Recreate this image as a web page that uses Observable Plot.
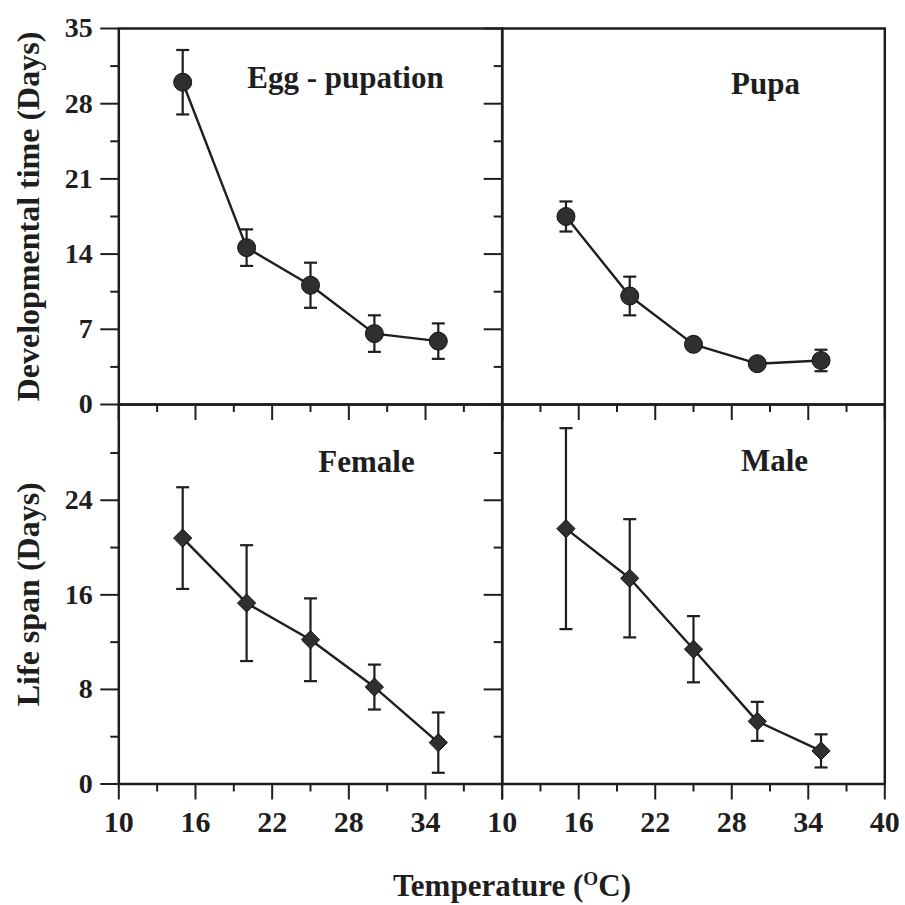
<!DOCTYPE html>
<html>
<head>
<meta charset="utf-8">
<script src="https://cdn.jsdelivr.net/npm/d3@7"></script>
<script src="https://cdn.jsdelivr.net/npm/@observablehq/plot@0.6"></script>
<style>
  html, body { margin: 0; padding: 0; background: #fff; overflow: hidden; }
  #wrap { position: relative; width: 905px; height: 905px; }
  #wrap svg { position: absolute; left: 0; top: 0; }
  #xtitle { position: absolute; left: 0; top: 870px; width: 1024px; text-align: center;
            font: bold 31px "Liberation Serif", "Times New Roman", serif; line-height: 31px; color: #1e1e1e; }
  #xtitle .sup { position: relative; top: -0.55em; font-size: 0.62em; }
</style>
</head>
<body>
<div id="wrap"></div>
<script>
// ---- data ----
const temperature = [15, 20, 25, 30, 35];

const eggMean   = [30.0, 14.6, 11.1, 6.6, 5.9];
const eggErr    = [3.0, 1.7, 2.1, 1.7, 1.65];

const pupaMean  = [17.5, 10.1, 5.6, 3.8, 4.1];
const pupaErr   = [1.4, 1.8, 0.5, 0.4, 1.0];

const femaleMean = [20.8, 15.3, 12.2, 8.2, 3.5];
const femaleErr  = [4.3, 4.9, 3.5, 1.9, 2.55];

const maleMean  = [21.6, 17.4, 11.4, 5.3, 2.8];
const maleErr   = [8.5, 5.0, 2.8, 1.65, 1.4];

const panelLabels = ["Egg - pupation", "Pupa", "Female", "Male"];
const yTitles = ["Developmental time (Days)", "Life span (Days)"];

const xMajor = [10, 16, 22, 28, 34, 40];
const xMinor = [13, 19, 25, 31, 37];
const xLabelsLeft = [10, 16, 22, 28, 34];
const xLabelsRight = [10, 16, 22, 28, 34, 40];

const topYMajor = [0, 7, 14, 21, 28, 35];
const topYMinor = [3.5, 10.5, 17.5, 24.5, 31.5];
const botYMajor = [0, 8, 16, 24];
const botYMinor = [4, 12, 20, 28];

// ---- drawing ----
const ink = "#1e1e1e";
const W = 905, H = 905;
const cols = [[118.3, 501.7], [501.7, 884.3]];
const rows = [[28, 404], [404, 783.5]];
const serif = "'Liberation Serif', 'Times New Roman', serif";

const capSymbol = {
  draw(context, size) {
    const r = Math.sqrt(size / Math.PI);
    context.moveTo(-r, 0);
    context.lineTo(r, 0);
  }
};

function panel(o) {
  const [L, R] = cols[o.col];
  const [T, B] = rows[o.row];
  const data = temperature.map((t, i) => ({t, m: o.mean[i], lo: o.mean[i] - o.err[i], hi: o.mean[i] + o.err[i]}));
  const marks = [
    Plot.axisY(o.yMajor, {tickSize: 18, tickPadding: 8, strokeWidth: 2, stroke: ink,
      fontFamily: serif, fontSize: 28, fontWeight: "bold",
      tickFormat: o.showY ? (d) => String(d) : () => "", label: null}),
    Plot.axisY(o.yMinor, {tickSize: 8, strokeWidth: 2, stroke: ink, tickFormat: () => "", label: null}),
    Plot.axisX(xMajor, {tickSize: 16, tickPadding: 11, strokeWidth: 2, stroke: ink,
      fontFamily: serif, fontSize: 30, fontWeight: "bold",
      tickFormat: (d) => (o.xLabels && o.xLabels.includes(d) ? String(d) : ""), label: null}),
    Plot.axisX(xMinor, {tickSize: 8, strokeWidth: 2, stroke: ink, tickFormat: () => "", label: null}),
    Plot.frame({stroke: ink, strokeWidth: 2.5}),
    Plot.ruleX(data, {x: "t", y1: "lo", y2: "hi", stroke: ink, strokeWidth: 2.2}),
    Plot.dot(data, {x: "t", y: "lo", symbol: capSymbol, r: 6.5, fill: "none", stroke: ink, strokeWidth: 2.2}),
    Plot.dot(data, {x: "t", y: "hi", symbol: capSymbol, r: 6.5, fill: "none", stroke: ink, strokeWidth: 2.2}),
    Plot.line(data, {x: "t", y: "m", stroke: ink, strokeWidth: 2.4}),
    Plot.dot(data, {x: "t", y: "m", symbol: o.symbol, r: o.r, fill: "#2f2f2f", stroke: "#111", strokeWidth: 1}),
    Plot.text([o.label], {text: (d) => d, frameAnchor: "top", lineAnchor: "middle", dx: o.ldx, dy: o.ldy,
      fontFamily: serif, fontSize: 31, fontWeight: "bold", fill: ink})
  ];
  if (o.title) {
    marks.push(Plot.text([o.title], {text: (d) => d, frameAnchor: "left", lineAnchor: "middle", textAnchor: "middle",
      rotate: -90, dx: -90, fontFamily: serif, fontSize: 32, fontWeight: "bold", fill: ink}));
  }
  return Plot.plot({
    width: W, height: H,
    marginLeft: L, marginRight: W - R, marginTop: T, marginBottom: H - B,
    x: {domain: [10, 40], label: null},
    y: {domain: o.yDomain, label: null},
    style: {background: "transparent", overflow: "visible", color: ink,
            fontFamily: serif, fontSize: "28px", fontWeight: "bold"},
    marks
  });
}

const wrap = document.getElementById("wrap");
wrap.append(panel({col: 0, row: 0, mean: eggMean, err: eggErr, symbol: "circle", r: 9,
  yDomain: [0, 35], yMajor: topYMajor, yMinor: topYMinor, showY: true, xLabels: null,
  label: panelLabels[0], ldx: 35, ldy: 50, title: yTitles[0]}));
wrap.append(panel({col: 1, row: 0, mean: pupaMean, err: pupaErr, symbol: "circle", r: 9,
  yDomain: [0, 35], yMajor: topYMajor, yMinor: topYMinor, showY: false, xLabels: null,
  label: panelLabels[1], ldx: 72, ldy: 56}));
wrap.append(panel({col: 0, row: 1, mean: femaleMean, err: femaleErr, symbol: "diamond2", r: 8.2,
  yDomain: [0, 32.1], yMajor: botYMajor, yMinor: botYMinor, showY: true, xLabels: xLabelsLeft,
  label: panelLabels[2], ldx: 56, ldy: 58, title: yTitles[1]}));
wrap.append(panel({col: 1, row: 1, mean: maleMean, err: maleErr, symbol: "diamond2", r: 8.2,
  yDomain: [0, 32.1], yMajor: botYMajor, yMinor: botYMinor, showY: false, xLabels: xLabelsRight,
  label: panelLabels[3], ldx: 81, ldy: 57}));

const xt = document.createElement("div");
xt.id = "xtitle";
xt.innerHTML = 'Temperature (<span class="sup">O</span>C)';
wrap.append(xt);
</script>
</body>
</html>
